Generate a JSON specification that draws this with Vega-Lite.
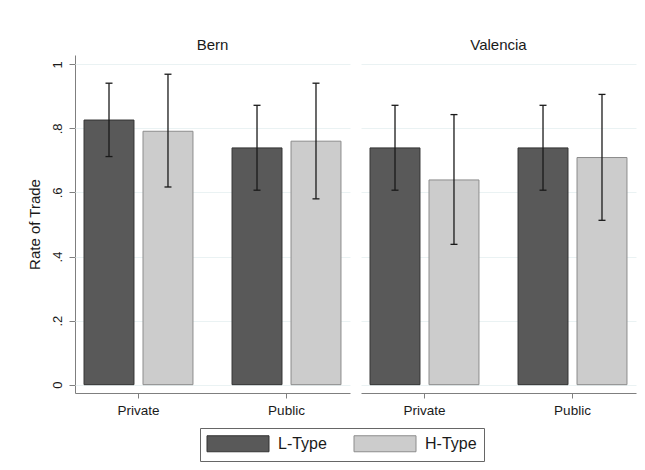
{
  "$schema": "https://vega.github.io/schema/vega-lite/v6.json",
  "padding": {"left": 27, "top": 38, "right": 10, "bottom": 5},
  "background": "white",
  "data": {
    "values": [
      {"city": "Bern", "group": "Private", "type": "L-Type", "rate": 0.826, "lo": 0.712, "hi": 0.941},
      {"city": "Bern", "group": "Private", "type": "H-Type", "rate": 0.791, "lo": 0.617, "hi": 0.969},
      {"city": "Bern", "group": "Public", "type": "L-Type", "rate": 0.739, "lo": 0.607, "hi": 0.872},
      {"city": "Bern", "group": "Public", "type": "H-Type", "rate": 0.760, "lo": 0.580, "hi": 0.941},
      {"city": "Valencia", "group": "Private", "type": "L-Type", "rate": 0.739, "lo": 0.607, "hi": 0.872},
      {"city": "Valencia", "group": "Private", "type": "H-Type", "rate": 0.639, "lo": 0.438, "hi": 0.843},
      {"city": "Valencia", "group": "Public", "type": "L-Type", "rate": 0.739, "lo": 0.607, "hi": 0.872},
      {"city": "Valencia", "group": "Public", "type": "H-Type", "rate": 0.709, "lo": 0.513, "hi": 0.906}
    ]
  },
  "facet": {
    "column": {
      "field": "city", "type": "nominal", "title": null, "sort": ["Bern", "Valencia"],
      "header": {"labelFont": "Liberation Sans", "labelFontSize": 15, "labelColor": "#1a1a1a", "labelPadding": 2}
    }
  },
  "spacing": 11,
  "spec": {
    "width": 275,
    "height": 338,
    "encoding": {
      "x": {
        "field": "group", "type": "nominal", "sort": ["Private", "Public"], "title": null,
        "scale": {"paddingInner": 0.264, "paddingOuter": 0.061},
        "axis": {"labelAngle": 0, "labelFontSize": 13.5, "labelColor": "#1a1a1a", "tickSize": 5, "labelPadding": 5, "domainColor": "#7f7f7f", "tickColor": "#7f7f7f", "grid": false}
      },
      "xOffset": {"field": "type", "type": "nominal", "sort": ["L-Type", "H-Type"], "scale": {"paddingInner": 0.153, "paddingOuter": 0}}
    },
    "layer": [
      {
        "mark": {"type": "bar", "strokeWidth": 1},
        "encoding": {
          "y": {
            "field": "rate", "type": "quantitative", "title": "Rate of Trade",
            "scale": {"domain": [-0.026, 1.029], "nice": false, "zero": false},
            "axis": {
              "values": [0, 0.2, 0.4, 0.6, 0.8, 1],
              "labelExpr": "datum.value == 0 ? '0' : datum.value == 1 ? '1' : replace(format(datum.value, '.1f'), '0.', '.')",
              "labelAngle": 270, "labelAlign": "center", "labelBaseline": "bottom",
              "labelFontSize": 13, "labelColor": "#1a1a1a", "labelPadding": 5,
              "tickSize": 6, "tickColor": "#7f7f7f", "domainColor": "#7f7f7f",
              "gridColor": "#eaf2f3", "gridWidth": 1,
              "titleFontSize": 15, "titleFontWeight": "normal", "titleColor": "#1a1a1a", "titlePadding": 9
            }
          },
          "y2": {"datum": 0},
          "fill": {
            "field": "type", "type": "nominal", "sort": ["L-Type", "H-Type"],
            "scale": {"domain": ["L-Type", "H-Type"], "range": ["#595959", "#cccccc"]},
            "legend": {"orient": "none", "legendX": 125, "legendY": 373, "direction": "horizontal", "title": null}
          },
          "stroke": {
            "field": "type", "type": "nominal", "sort": ["L-Type", "H-Type"],
            "scale": {"domain": ["L-Type", "H-Type"], "range": ["#333333", "#8c8c8c"]},
            "legend": {"orient": "none", "legendX": 125, "legendY": 373, "direction": "horizontal", "title": null}
          }
        }
      },
      {
        "mark": {"type": "rule", "color": "#1a1a1a", "strokeWidth": 1.3},
        "encoding": {
          "y": {"field": "lo", "type": "quantitative", "title": "Rate of Trade"},
          "y2": {"field": "hi"}
        }
      },
      {
        "mark": {"type": "tick", "color": "#1a1a1a", "thickness": 1.3, "size": 7, "opacity": 1},
        "encoding": {"y": {"field": "lo", "type": "quantitative", "title": "Rate of Trade"}}
      },
      {
        "mark": {"type": "tick", "color": "#1a1a1a", "thickness": 1.3, "size": 7, "opacity": 1},
        "encoding": {"y": {"field": "hi", "type": "quantitative", "title": "Rate of Trade"}}
      }
    ]
  },
  "config": {
    "font": "Liberation Sans",
    "view": {"stroke": null},
    "legend": {
      "symbolType": "M-3.875,-1H3.875V1H-3.875Z",
      "symbolSize": 256,
      "symbolStrokeWidth": 1,
      "symbolOpacity": 1,
      "symbolOffset": 22.5,
      "labelOffset": 31.5,
      "labelFontSize": 16,
      "labelColor": "#1a1a1a",
      "columnPadding": 25,
      "padding": 7,
      "strokeColor": "#666666",
      "fillColor": "white"
    }
  }
}
